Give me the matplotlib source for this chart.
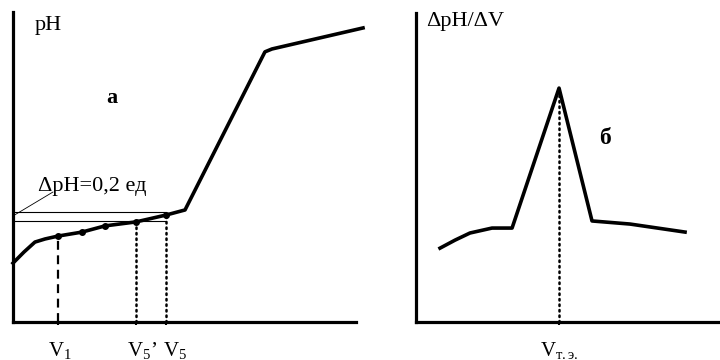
import matplotlib.pyplot as plt
import matplotlib.transforms as mtransforms

plt.rcParams["font.family"] = ["Liberation Serif", "DejaVu Serif"]
plt.rcParams["mathtext.fontset"] = "custom"
plt.rcParams["mathtext.rm"] = "Liberation Serif"
plt.rcParams["mathtext.it"] = "Liberation Serif"

# (a) titration curve pH vs V
v_curve = [0, 0.64, 1.28, 1.87, 2.62, 4.02, 5.36, 7.17, 8.92, 10.03, 14.69, 15.10, 20.41]
ph_curve = [2.66, 3.16, 3.61, 3.75, 3.88, 4.06, 4.34, 4.52, 4.83, 5.06, 12.2, 12.33, 13.28]
v_dots = [2.62, 4.02, 5.36, 7.17, 8.92]
ph_dots = [3.88, 4.06, 4.34, 4.52, 4.83]
ph_lines = [4.97, 4.56]
v1, v5p, v5 = 2.62, 7.17, 8.92
tick_labels_a = ["$\\mathrm{V_1}$", "$\\mathrm{V_5}$\u2019", "$\\mathrm{V_5}$"]

# (б) derivative curve dpH/dV
v_deriv = [1.58, 2.57, 3.55, 5.00, 6.32, 9.41, 11.58, 14.08, 17.70]
d_deriv = [2.39, 2.65, 2.88, 3.04, 3.04, 7.57, 3.27, 3.17, 2.91]
v_eq = 9.41

fig = plt.figure(figsize=(7.2, 3.6), dpi=100)
ax1 = fig.add_axes([13 / 720, 38 / 360, 343 / 720, 310 / 360])
ax2 = fig.add_axes([416 / 720, 38 / 360, 304 / 720, 309 / 360])

for ax in (ax1, ax2):
    ax.spines["top"].set_visible(False)
    ax.spines["right"].set_visible(False)
    ax.spines["left"].set_linewidth(2.3)
    ax.spines["bottom"].set_linewidth(2.3)
    ax.set_yticks([])
    ax.tick_params(axis="x", length=2, width=1.5, pad=11, labelsize=15)

ax1.set_xlim(0, 20)
ax1.set_ylim(0, 14)
ax1.plot(v_curve, ph_curve, color="black", lw=2.6, solid_joinstyle="round", clip_on=False)
ax1.plot(v_dots, ph_dots, "o", color="black", ms=4)
for y in ph_lines:
    ax1.plot([0, v5], [y, y], color="black", lw=0.8)
ax1.plot([v1, v1], [0, ph_dots[0]], color="black", lw=1.6, ls=(0, (4, 2.5)))
ax1.plot([v5p, v5p], [0, ph_lines[1]], color="black", lw=1.8, ls=(0, (0.6, 1.6)), dash_capstyle="round")
ax1.plot([v5, v5], [0, ph_lines[0]], color="black", lw=1.8, ls=(0, (0.6, 1.6)), dash_capstyle="round")
ax1.plot([0, 2.33], [4.79, 5.87], color="black", lw=0.6)
ax1.text(1.46, 6.14, "\u0394pH=0,2 ед", fontsize=16, va="center", ha="left")
ax1.text(1.28, 13.41, "pH", fontsize=16, va="center", ha="left")
ax1.text(5.77, 10.1, "а", fontsize=16, fontweight="bold", va="center", ha="center")
ax1.set_xticks([v1, v5p, v5])
ax1.set_xticklabels(tick_labels_a)
labels = ax1.get_xticklabels()
for lbl, dx in zip(labels, [2, 6, 9]):
    lbl.set_transform(lbl.get_transform() + mtransforms.ScaledTranslation(dx / 100, 0, fig.dpi_scale_trans))

ax2.set_xlim(0, 20)
ax2.set_ylim(0, 10)
ax2.plot(v_deriv, d_deriv, color="black", lw=2.6, solid_joinstyle="round")
ax2.plot([v_eq, v_eq], [0, d_deriv[5]], color="black", lw=1.8, ls=(0, (0.6, 1.6)), dash_capstyle="round")
ax2.text(0.66, 9.71, "\u0394pH/\u0394V", fontsize=16, va="center", ha="left")
ax2.text(12.43, 5.95, "б", fontsize=17, fontweight="bold", va="center", ha="center")
ax2.set_xticks([v_eq])
ax2.set_xticklabels(["$\\mathrm{V_{т.э.}}$"])

fig.savefig("out.png", dpi=100)
